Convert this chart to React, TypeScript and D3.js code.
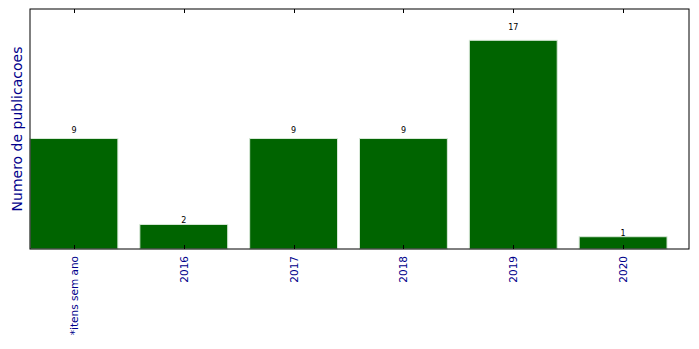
import React from "react";
import * as d3 from "d3";

const categories = ["*itens sem ano", "2016", "2017", "2018", "2019", "2020"];
const values = [9, 2, 9, 9, 17, 1];
const yLabel = "Numero de publicacoes";

export default function App() {
  const W = 699, H = 349;
  const m = { left: 30, top: 9, right: 689, bottom: 249 };
  const x = d3.scaleLinear().domain([-0.4, 5.6]).range([m.left, m.right]);
  const y = d3.scaleLinear().domain([0, 17 * 1.15]).range([m.bottom, m.top]);
  const bw = 0.8;
  const font = "'DejaVu Sans', sans-serif";
  return (
    <div style={{ position: "absolute", left: 0, top: 0 }}>
      <svg width={W} height={H} style={{ display: "block", background: "#fff" }}>
        {values.map((v, i) => (
          <rect key={i} x={x(i - bw / 2)} y={y(v)} width={x(i + bw / 2) - x(i - bw / 2)} height={y(0) - y(v)}
            fill="#006400" stroke="#d8e8d8" strokeWidth={1} />
        ))}
        {values.map((v, i) => (
          <text key={"t" + i} x={x(i)} y={y(v * 1.05)} textAnchor="middle" fontFamily={font} fontSize={8} fill="#000">{v}</text>
        ))}
        <rect x={m.left} y={m.top} width={m.right - m.left} height={m.bottom - m.top} fill="none" stroke="#000" strokeWidth={1} />
        {categories.map((c, i) => (
          <g key={"k" + i}>
            <line x1={Math.round(x(i)) + 0.5} x2={Math.round(x(i)) + 0.5} y1={m.bottom} y2={m.bottom - 4} stroke="#000" />
            <line x1={Math.round(x(i)) + 0.5} x2={Math.round(x(i)) + 0.5} y1={m.top} y2={m.top + 4} stroke="#000" />
            <text transform={`translate(${x(i) + 4},${m.bottom + 7}) rotate(-90)`} textAnchor="end" fontFamily={font} fontSize={10.5} fill="#00008b">{c}</text>
          </g>
        ))}
        <text transform={`translate(22,${(m.top + m.bottom) / 2}) rotate(-90)`} textAnchor="middle" fontFamily={font} fontSize={14} fill="#00008b">{yLabel}</text>
      </svg>
    </div>
  );
}
